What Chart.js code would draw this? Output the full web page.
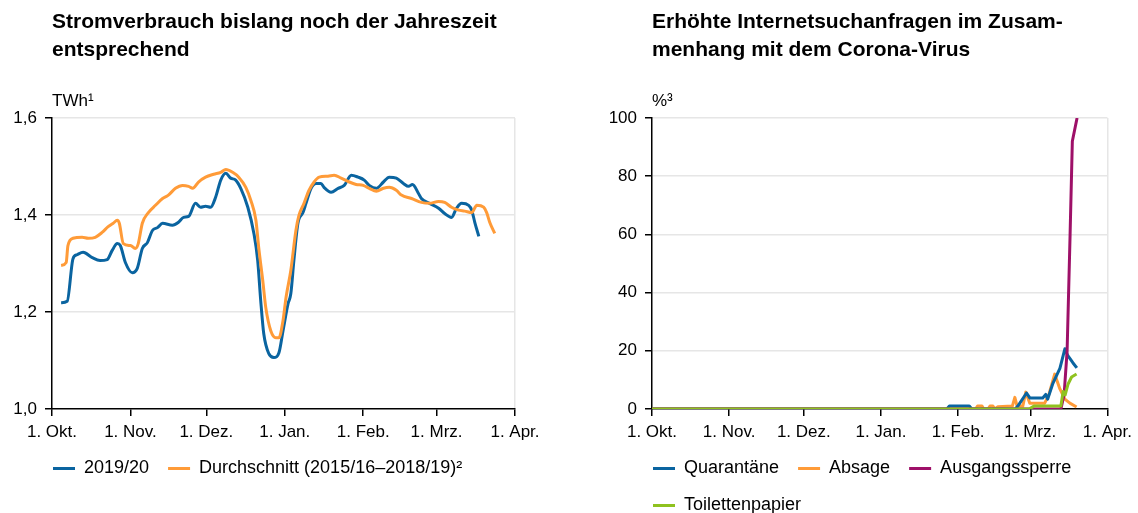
<!DOCTYPE html>
<html>
<head>
<meta charset="utf-8">
<script src="https://cdn.jsdelivr.net/npm/chart.js@4.4.1/dist/chart.umd.min.js"></script>
<style>
  body { margin: 0; background: #fff; width: 1138px; height: 513px; overflow: hidden; position: relative; }
  .box { position: absolute; top: 0; }
</style>
</head>
<body>
<div class="box" style="left:0"><canvas id="stromChart" width="565" height="513"></canvas></div>
<div class="box" style="left:560px"><canvas id="sucheChart" width="578" height="525"></canvas></div>
<script>
// x = Tage seit 1. Okt.
const monthTicks = [0, 31, 61, 92, 123, 152, 183];
const monthLabels = ['1. Okt.', '1. Nov.', '1. Dez.', '1. Jan.', '1. Feb.', '1. Mrz.', '1. Apr.'];

const stromTicks = [1.0, 1.2, 1.4, 1.6];
const sucheTicks = [0, 20, 40, 60, 80, 100];

// Stromverbrauch 2019/20
const days2019 = [3.6,6.0,8.3,9.9,12.3,15.9,19.0,21.8,23.8,25.8,27.0,29.0,31.7,33.7,35.7,37.7,39.7,41.7,43.7,47.6,50.0,52.0,54.0,56.7,58.7,60.7,62.7,64.7,66.7,68.7,70.6,72.6,74.6,77.4,79.8,81.3,82.5,83.7,85.7,87.7,89.7,91.3,93.3,94.4,95.6,97.2,99.2,100.4,102.4,104.4,106.3,107.5,110.3,113.1,115.5,118.3,121.0,123.4,125.4,128.2,131.0,133.3,136.1,138.9,140.9,142.5,144.8,146.0,149.2,152.8,155.2,157.9,159.9,161.9,164.7,165.9,167.1,168.7];
const strom2019 = [1.219,1.222,1.310,1.318,1.323,1.312,1.306,1.308,1.327,1.341,1.337,1.302,1.281,1.290,1.331,1.343,1.368,1.374,1.383,1.379,1.385,1.395,1.397,1.424,1.416,1.418,1.416,1.437,1.472,1.486,1.476,1.472,1.455,1.416,1.362,1.306,1.223,1.155,1.114,1.106,1.116,1.161,1.217,1.238,1.306,1.383,1.405,1.424,1.455,1.465,1.465,1.457,1.447,1.455,1.461,1.482,1.478,1.472,1.461,1.455,1.468,1.478,1.476,1.465,1.459,1.463,1.445,1.434,1.424,1.414,1.403,1.395,1.414,1.424,1.420,1.410,1.385,1.356];

// Durchschnitt 2015/16-2018/19
const daysAvg = [3.6,5.6,6.3,8.3,11.9,14.3,17.1,19.8,22.2,24.2,25.8,26.6,28.2,31.0,32.9,34.1,35.7,38.1,40.9,43.7,46.0,48.8,51.6,54.0,55.6,57.9,60.7,63.9,66.7,68.7,71.4,73.8,76.6,78.6,80.6,81.7,83.3,84.5,86.5,88.5,89.7,91.3,92.5,94.4,96.4,97.6,99.6,101.6,103.6,105.6,109.1,111.5,114.3,117.5,120.2,123.0,125.4,128.2,131.0,133.3,136.1,138.1,142.1,146.0,149.2,152.8,155.2,157.9,160.7,163.1,165.9,167.9,170.6,171.8,173.0,175.0];
const stromAvg = [1.296,1.302,1.337,1.352,1.354,1.352,1.354,1.364,1.376,1.383,1.389,1.383,1.341,1.337,1.331,1.341,1.383,1.405,1.420,1.434,1.441,1.455,1.461,1.459,1.455,1.468,1.478,1.484,1.488,1.494,1.488,1.478,1.457,1.430,1.389,1.333,1.265,1.209,1.161,1.147,1.147,1.182,1.230,1.286,1.368,1.399,1.424,1.451,1.468,1.478,1.480,1.482,1.476,1.468,1.463,1.461,1.455,1.449,1.455,1.457,1.451,1.441,1.434,1.426,1.424,1.428,1.426,1.416,1.410,1.408,1.405,1.420,1.416,1.405,1.385,1.362];

// Suchanfragen in %
const daysQuar = [0,118.5,119.5,127.5,128.5,146,147,150.5,151.8,154.6,157,158.2,159,161,163.9,165.9,167.1,169.1,170.7];
const quarantaene = [0,0,1,1,0,0,1,5.5,3.8,3.8,3.8,5,3.4,8.6,14,20.7,18.3,15.9,14.1];
const daysAbsage = [0,130,130.8,132.6,133.3,135,135.8,137,137.8,139,144.8,145.8,146.7,149,150.2,151.8,157.8,159.5,161.8,163.9,165.9,167.9,170.6];
const absage = [0,0,1,1,0,0,1,1,0,0.8,1,4,1,1,5.8,2,2,5,12,6.9,3.4,2,0.7];
const daysSperre = [0,164.3,165.6,166.8,168,168.9,170.8];
const ausgangssperre = [0,0,5,20,60,92,100];
const daysKlo = [0,151.5,153.5,164.3,165.2,166,167.2,168.6,170.6];
const toilettenpapier = [0,0,1,1,6,4.8,8.6,11,12];

const BLUE = '#0a64a0', ORANGE = '#ff9b38', PURPLE = '#9e1068', GREEN = '#8fc21f';
const GRID = '#e6e6e6';

Chart.defaults.font.family = '"Liberation Sans", Arial, sans-serif';
Chart.defaults.font.size = 17;
Chart.defaults.color = '#000';

const toPoints = (xs, ys) => xs.map((x, i) => ({ x: x, y: ys[i] }));

// Legende an der linken Kante der Zeichenfläche ausrichten
const legendToPlot = {
    id: 'legendToPlot',
    afterLayout(chart) {
        const lg = chart.legend;
        const shift = chart.chartArea.left + 1 - (lg.left + lg.options.labels.padding);
        lg.left += shift;
        lg.right += shift;
    }
};

function lineSet(label, xs, ys, color, order) {
    return {
        label: label,
        data: toPoints(xs, ys),
        borderColor: color,
        backgroundColor: color,
        borderWidth: 3,
        pointRadius: 0,
        borderJoinStyle: 'round',
        order: order
    };
}

function monthAxis() {
    return {
        type: 'linear',
        min: 0,
        max: 183,
        afterBuildTicks: axis => { axis.ticks = monthTicks.map(v => ({ value: v })); },
        afterFit: scale => { scale.height = 31.5; },
        ticks: {
            autoSkip: false,
            maxRotation: 0,
            padding: 6,
            callback: v => monthLabels[monthTicks.indexOf(v)]
        },
        grid: {
            color: ctx => (ctx.tick && ctx.tick.value === 183) ? GRID : 'rgba(0,0,0,0)',
            tickColor: '#000',
            tickLength: 7,
            lineWidth: 1.5
        },
        border: { color: '#000', width: 1.5 }
    };
}

function valueAxis(ticks, width, fmt) {
    return {
        min: ticks[0],
        max: ticks[ticks.length - 1],
        afterBuildTicks: axis => { axis.ticks = ticks.map(v => ({ value: v })); },
        afterFit: scale => { scale.width = width; },
        ticks: { padding: 8, callback: fmt },
        grid: {
            color: ctx => (ctx.tick && ctx.tick.value === ticks[0]) ? 'rgba(0,0,0,0)' : GRID,
            tickColor: '#000',
            tickLength: 7,
            lineWidth: 1.5
        },
        border: { color: '#000', width: 1.5 }
    };
}

function plugins(title, unit) {
    return {
        title: {
            display: true,
            text: title,
            align: 'start',
            fullSize: false,
            color: '#000',
            font: { size: 21, weight: 'bold', lineHeight: 1.333 },
            padding: { top: 8, bottom: 0 }
        },
        subtitle: {
            display: true,
            text: unit,
            align: 'start',
            fullSize: false,
            color: '#000',
            font: { size: 17, lineHeight: 1.2 },
            padding: { top: 27, bottom: 6.6 }
        },
        legend: {
            position: 'bottom',
            align: 'start',
            fullSize: true,
            labels: {
                boxWidth: 22,
                boxHeight: 3,
                padding: 19,
                color: '#000',
                font: { size: 18 },
                sort: (a, b) => a.datasetIndex - b.datasetIndex,
                generateLabels: chart => Chart.defaults.plugins.legend.labels.generateLabels(chart)
                    .map(item => Object.assign(item, { lineWidth: 0 }))
            }
        },
        tooltip: { enabled: false }
    };
}

new Chart(document.getElementById('stromChart'), {
    type: 'line',
    data: {
        datasets: [
            lineSet('2019/20', days2019, strom2019, BLUE, 1),
            lineSet('Durchschnitt (2015/16–2018/19)²', daysAvg, stromAvg, ORANGE, 0)
        ]
    },
    options: {
        responsive: false,
        animation: false,
        cubicInterpolationMode: 'monotone',
        layout: { padding: { left: 0, right: 50, top: 0, bottom: 25.5 } },
        scales: {
            x: monthAxis(),
            y: valueAxis(stromTicks, 52, v => v.toFixed(1).replace('.', ','))
        },
        plugins: plugins(['Stromverbrauch bislang noch der Jahreszeit', 'entsprechend'], 'TWh¹')
    },
    plugins: [legendToPlot]
});

new Chart(document.getElementById('sucheChart'), {
    type: 'line',
    data: {
        datasets: [
            lineSet('Quarantäne', daysQuar, quarantaene, BLUE, 2),
            lineSet('Absage', daysAbsage, absage, ORANGE, 3),
            lineSet('Ausgangssperre', daysSperre, ausgangssperre, PURPLE, 1),
            lineSet('Toilettenpapier', daysKlo, toilettenpapier, GREEN, 0)
        ]
    },
    options: {
        responsive: false,
        animation: false,
        layout: { padding: { left: 0, right: 30, top: 0, bottom: 0.5 } },
        scales: {
            x: monthAxis(),
            y: valueAxis(sucheTicks, 92, v => String(v))
        },
        plugins: plugins(['Erhöhte Internetsuchanfragen im Zusam-', 'menhang mit dem Corona-Virus'], '%³')
    },
    plugins: [legendToPlot]
});
</script>
</body>
</html>
